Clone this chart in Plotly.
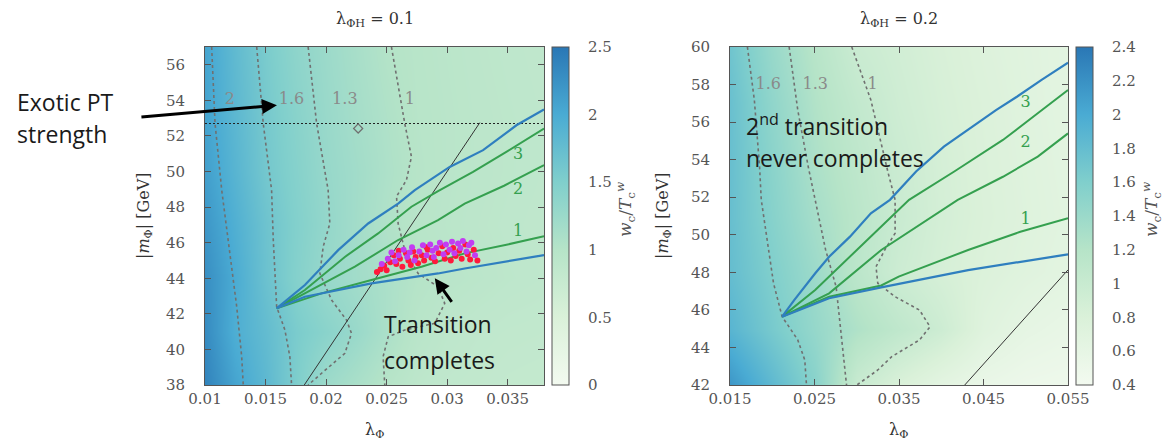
import plotly.graph_objects as go

W, H = 1166, 443
SERIF = "DejaVu Serif"
SANS = "Open Sans"
BLUE = "#2f7fbf"
GREEN = "#35a04f"
DASH_GREY = "#707070"

# ---------------- Left panel: lambda_PhiH = 0.1 ----------------
L_lam_grid = [0.010, 0.0125, 0.015, 0.0175, 0.020, 0.0225, 0.025, 0.0275, 0.030, 0.0325, 0.035, 0.038]
L_m_grid = [38, 41, 44, 47, 50, 53, 57]
L_z = [
    [2.38, 2.07, 1.82, 1.52, 1.23, 1.11, 0.99, 0.90, 0.86, 0.84, 0.82, 0.81],
    [2.31, 1.96, 1.77, 1.55, 1.41, 1.27, 1.10, 0.96, 0.90, 0.87, 0.85, 0.84],
    [2.28, 1.99, 1.69, 1.46, 1.28, 1.19, 1.10, 1.01, 0.96, 0.93, 0.90, 0.88],
    [2.20, 1.94, 1.67, 1.48, 1.32, 1.18, 1.05, 0.97, 0.94, 0.91, 0.89, 0.87],
    [2.12, 1.87, 1.61, 1.45, 1.29, 1.19, 1.08, 0.99, 0.95, 0.92, 0.90, 0.88],
    [2.08, 1.83, 1.59, 1.42, 1.27, 1.16, 1.06, 0.98, 0.95, 0.92, 0.90, 0.88],
    [2.06, 1.79, 1.55, 1.37, 1.24, 1.13, 1.02, 0.97, 0.94, 0.91, 0.89, 0.87],
]

L_blue_up_lam = [0.01592, 0.01825, 0.0210, 0.02348, 0.02595, 0.02733, 0.03021, 0.03297, 0.03572, 0.038]
L_blue_up_m = [42.31, 43.62, 45.58, 47.08, 48.2, 48.96, 50.26, 51.2, 52.6, 53.49]
L_green3_lam = [0.01592, 0.01825, 0.02155, 0.0243, 0.02705, 0.02925, 0.03214, 0.03489, 0.038]
L_green3_m = [42.31, 43.34, 45.2, 46.52, 48.02, 48.9, 49.98, 51.1, 52.42]
L_green2_lam = [0.01592, 0.0188, 0.02238, 0.02595, 0.02925, 0.03145, 0.0347, 0.038]
L_green2_m = [42.31, 43.34, 44.65, 46.15, 47.27, 48.2, 49.2, 50.36]
L_green1_lam = [0.01592, 0.01963, 0.02375, 0.02788, 0.03145, 0.0350, 0.038]
L_green1_m = [42.31, 43.15, 43.9, 44.65, 45.4, 45.9, 46.37]
L_blue_lo_lam = [0.01592, 0.01825, 0.02375, 0.02925, 0.03145, 0.03489, 0.038]
L_blue_lo_m = [42.31, 42.96, 43.71, 44.27, 44.55, 44.93, 45.30]

L_c2_lam = [0.01055, 0.01083, 0.01138, 0.01192, 0.01262, 0.01303, 0.01316]
L_c2_m = [57, 52.7, 48.96, 46.15, 42.4, 39.59, 38]
L_c16_lam = [0.01427, 0.01481, 0.0155, 0.01564, 0.01592, 0.0166, 0.01701, 0.01715]
L_c16_m = [57, 52.7, 48.96, 46.15, 42.4, 41.09, 39.59, 38]
L_c13_lam = [0.01852, 0.01922, 0.02017, 0.02031, 0.01976, 0.01949, 0.02045, 0.02169, 0.0221, 0.02155, 0.01963, 0.01852]
L_c13_m = [57, 52.7, 48.96, 47.08, 45.77, 44.27, 42.78, 41.65, 40.9, 39.78, 38.66, 38]
L_c1_lam = [0.0254, 0.0265, 0.02705, 0.02664, 0.02582, 0.02595, 0.0265, 0.0276, 0.02925, 0.0298, 0.02898, 0.0265, 0.02513, 0.02471, 0.02485]
L_c1_m = [57, 52.7, 50.83, 49.52, 48.6, 47.08, 45.58, 44.27, 43.52, 42.59, 41.47, 41.09, 40.71, 39.59, 38]

L_black_lam = [0.0182, 0.0327]
L_black_m = [38, 52.75]
L_hline_lam = [0.010, 0.038]
L_hline_m = [52.7, 52.7]
L_loop_lam = [0.02265]
L_loop_m = [52.42]

L_clab_text = ["2", "1.6", "1.3", "1"]
L_clab_lam = [0.01206, 0.01715, 0.02155, 0.02691]
L_clab_m = [54.0, 54.0, 54.0, 54.0]
L_glab_text = ["3", "2", "1"]
L_glab_lam = [0.03585, 0.03585, 0.03585]
L_glab_m = [50.92, 48.96, 46.61]

red_lam = [0.0242, 0.0245, 0.0248, 0.0250, 0.0253, 0.0256, 0.0258, 0.0261, 0.0263, 0.0266, 0.0268, 0.0270,
           0.0272, 0.0274, 0.0276, 0.0279, 0.0281, 0.0284, 0.0287, 0.0290, 0.0293, 0.0296, 0.0298, 0.0300,
           0.0303, 0.0305, 0.0307, 0.0310, 0.0312, 0.0315, 0.0317, 0.0319, 0.0322, 0.0325, 0.0260, 0.0283]
red_m = [44.35, 44.5, 44.7, 44.45, 44.9, 45.3, 44.8, 45.1, 44.65, 45.4, 45.0, 44.75,
         45.5, 45.2, 44.85, 45.3, 45.0, 45.6, 45.15, 44.95, 45.4, 45.8, 45.1, 45.45,
         45.0, 45.7, 45.25, 45.55, 45.1, 45.9, 45.35, 45.05, 45.6, 45.0, 45.55, 45.75]
mag_lam = [0.0246, 0.0251, 0.0254, 0.0257, 0.0260, 0.0264, 0.0267, 0.0271, 0.0273, 0.0277, 0.0280, 0.0283,
           0.0286, 0.0288, 0.0291, 0.0294, 0.0297, 0.0299, 0.0302, 0.0304, 0.0306, 0.0309, 0.0311, 0.0313,
           0.0316, 0.0318, 0.0320, 0.0323, 0.0269, 0.0289]
mag_m = [44.8, 45.1, 45.45, 44.95, 45.3, 45.6, 45.2, 45.75, 45.0, 45.5, 45.85, 45.3,
         45.9, 45.55, 45.7, 46.0, 45.35, 45.9, 45.6, 46.05, 45.4, 45.95, 45.7, 46.1,
         45.5, 45.85, 46.0, 45.3, 45.45, 45.2]

L_xticks = [0.01, 0.015, 0.02, 0.025, 0.03, 0.035]
L_xticktext = ["0.01", "0.015", "0.02", "0.025", "0.03", "0.035"]
L_yticks = [38, 40, 42, 44, 46, 48, 50, 52, 54, 56]
L_cticks = [0, 0.5, 1, 1.5, 2, 2.5]
L_cticktext = ["0", "0.5", "1", "1.5", "2", "2.5"]

# ---------------- Right panel: lambda_PhiH = 0.2 ----------------
R_lam_grid = [0.015, 0.020, 0.025, 0.030, 0.035, 0.040, 0.045, 0.050, 0.055]
R_m_grid = [42, 45, 48, 51, 54, 57, 60]
R_z = [
    [2.16, 1.85, 1.54, 1.00, 0.80, 0.65, 0.55, 0.50, 0.48],
    [1.89, 1.66, 1.44, 1.25, 1.10, 0.95, 0.72, 0.62, 0.57],
    [1.80, 1.60, 1.39, 1.14, 0.95, 0.85, 0.77, 0.71, 0.66],
    [1.78, 1.55, 1.32, 1.15, 0.99, 0.87, 0.79, 0.73, 0.68],
    [1.78, 1.52, 1.27, 1.11, 0.97, 0.86, 0.78, 0.72, 0.67],
    [1.77, 1.48, 1.23, 1.06, 0.93, 0.84, 0.77, 0.71, 0.66],
    [1.72, 1.42, 1.18, 0.98, 0.90, 0.82, 0.75, 0.70, 0.66],
]

R_blue_up_lam = [0.02117, 0.02262, 0.02509, 0.02673, 0.0292, 0.03167, 0.03393, 0.03702, 0.04031, 0.04318, 0.04648, 0.04895, 0.05183, 0.055]
R_blue_up_m = [45.64, 46.53, 47.95, 48.83, 49.9, 51.14, 51.86, 53.37, 54.69, 55.58, 56.64, 57.35, 58.24, 59.16]
R_green3_lam = [0.02117, 0.02508, 0.03084, 0.03619, 0.04154, 0.0473, 0.05142, 0.055]
R_green3_m = [45.64, 47.06, 49.55, 51.86, 53.37, 55.05, 56.47, 57.71]
R_green2_lam = [0.02117, 0.02673, 0.0329, 0.04195, 0.0473, 0.05142, 0.055]
R_green2_m = [45.64, 46.88, 49.19, 51.86, 53.09, 54.16, 55.4]
R_green1_lam = [0.02117, 0.02673, 0.0329, 0.03496, 0.04318, 0.04936, 0.055]
R_green1_m = [45.64, 46.7, 47.3, 47.77, 49.19, 50.16, 50.88]
R_blue_lo_lam = [0.02117, 0.02673, 0.0329, 0.04318, 0.055]
R_blue_lo_m = [45.64, 46.62, 47.2, 48.12, 48.96]

R_c16_lam = [0.01706, 0.01788, 0.0185, 0.0187, 0.02015, 0.02117, 0.02302, 0.02385, 0.02405]
R_c16_m = [60, 57.18, 53.62, 51.86, 47.42, 45.64, 44.4, 43.33, 42]
R_c13_lam = [0.022, 0.02302, 0.02426, 0.02509, 0.02632, 0.02756, 0.02796, 0.02837, 0.02879]
R_c13_m = [60, 56.64, 53.62, 51.86, 49.19, 47.23, 45.64, 43.86, 42]
R_c1_lam = [0.02941, 0.03167, 0.03373, 0.03454, 0.03454, 0.03331, 0.03228, 0.03249, 0.03454, 0.03743, 0.03867, 0.03743, 0.03414, 0.03249, 0.03002]
R_c1_m = [60, 57.18, 53.27, 51.86, 50.08, 49.19, 48.3, 47.42, 46.7, 45.99, 45.1, 44.4, 43.51, 42.8, 42]

R_black_lam = [0.04278, 0.055]
R_black_m = [42, 48.13]

R_clab_text = ["1.6", "1.3", "1"]
R_clab_lam = [0.01953, 0.02509, 0.03188]
R_clab_m = [57.97, 57.97, 57.97]
R_glab_text = ["3", "2", "1"]
R_glab_lam = [0.04998, 0.04998, 0.04998]
R_glab_m = [57.0, 54.88, 50.79]

R_xticks = [0.015, 0.025, 0.035, 0.045, 0.055]
R_xticktext = ["0.015", "0.025", "0.035", "0.045", "0.055"]
R_yticks = [42, 44, 46, 48, 50, 52, 54, 56, 58, 60]
R_cticks = [0.4, 0.6, 0.8, 1.0, 1.2, 1.4, 1.6, 1.8, 2.0, 2.2, 2.4]
R_cticktext = ["0.4", "0.6", "0.8", "1", "1.2", "1.4", "1.6", "1.8", "2", "2.2", "2.4"]

COLORSCALE = [[0.0, "#f3faf0"], [0.2, "#daf1d9"], [0.4, "#b6e4c8"],
              [0.6, "#80cfcc"], [0.8, "#4aabd3"], [1.0, "#2a77b5"]]

# ---------------- layout geometry (pixels) ----------------
TOP, BOT = 47, 385
L_X0, L_X1 = 205, 544
R_X0, R_X1 = 730, 1068


def px(x):
    return x / W


def py(y):
    return 1 - y / H


tickfont = dict(family=SERIF, size=15, color="#555")


def cbar(xpix, tickvals, ticktext):
    return dict(x=px(xpix), xanchor="left", xpad=0, ypad=0,
                y=py((TOP + BOT) / 2), yanchor="middle",
                len=BOT - TOP, lenmode="pixels", thickness=17, thicknessmode="pixels",
                outlinecolor="#555", outlinewidth=1,
                tickvals=tickvals, ticktext=ticktext,
                ticks="outside", ticklen=16, tickcolor="rgba(0,0,0,0)",
                tickfont=tickfont)


fig = go.Figure()

fig.add_trace(go.Heatmap(x=L_lam_grid, y=L_m_grid, z=L_z, zsmooth="best",
                         colorscale=COLORSCALE, zmin=0, zmax=2.5,
                         colorbar=cbar(552, L_cticks, L_cticktext),
                         hoverinfo="skip", xaxis="x", yaxis="y"))
fig.add_trace(go.Heatmap(x=R_lam_grid, y=R_m_grid, z=R_z, zsmooth="best",
                         colorscale=COLORSCALE, zmin=0.4, zmax=2.4,
                         colorbar=cbar(1076, R_cticks, R_cticktext),
                         hoverinfo="skip", xaxis="x2", yaxis="y2"))


def line(xs, ys, color, width, dash="solid", ax="x", ay="y"):
    fig.add_trace(go.Scatter(x=xs, y=ys, mode="lines", xaxis=ax, yaxis=ay,
                             line=dict(color=color, width=width, dash=dash),
                             showlegend=False, hoverinfo="skip"))


DASH = "3px,3px"
for xs, ys in [(L_c2_lam, L_c2_m), (L_c16_lam, L_c16_m), (L_c13_lam, L_c13_m), (L_c1_lam, L_c1_m)]:
    line(xs, ys, DASH_GREY, 1.6, DASH)
line(L_hline_lam, L_hline_m, "#222", 1.2, "2px,2px")
line(L_black_lam, L_black_m, "#333", 1)
fig.add_trace(go.Scatter(x=L_loop_lam, y=L_loop_m, mode="markers", xaxis="x", yaxis="y",
                         marker=dict(symbol="diamond-open", size=7, color=DASH_GREY, line=dict(width=1.2)),
                         showlegend=False, hoverinfo="skip"))
line(L_green3_lam, L_green3_m, GREEN, 2)
line(L_green2_lam, L_green2_m, GREEN, 2)
line(L_green1_lam, L_green1_m, GREEN, 2)
line(L_blue_up_lam, L_blue_up_m, BLUE, 2.2)
line(L_blue_lo_lam, L_blue_lo_m, BLUE, 2.2)

fig.add_trace(go.Scatter(x=red_lam, y=red_m, mode="markers", xaxis="x", yaxis="y",
                         marker=dict(color="#ff1a3c", size=6), showlegend=False, hoverinfo="skip"))
fig.add_trace(go.Scatter(x=mag_lam, y=mag_m, mode="markers", xaxis="x", yaxis="y",
                         marker=dict(color="#c23cf2", size=6), showlegend=False, hoverinfo="skip"))

for xs, ys in [(R_c16_lam, R_c16_m), (R_c13_lam, R_c13_m), (R_c1_lam, R_c1_m)]:
    line(xs, ys, DASH_GREY, 1.6, DASH, "x2", "y2")
line(R_black_lam, R_black_m, "#333", 1, "solid", "x2", "y2")
line(R_green3_lam, R_green3_m, GREEN, 2, "solid", "x2", "y2")
line(R_green2_lam, R_green2_m, GREEN, 2, "solid", "x2", "y2")
line(R_green1_lam, R_green1_m, GREEN, 2, "solid", "x2", "y2")
line(R_blue_up_lam, R_blue_up_m, BLUE, 2.2, "solid", "x2", "y2")
line(R_blue_lo_lam, R_blue_lo_m, BLUE, 2.2, "solid", "x2", "y2")


def labels(xs, ys, texts, color, ax, ay):
    fig.add_trace(go.Scatter(x=xs, y=ys, text=texts, mode="text", xaxis=ax, yaxis=ay,
                             textfont=dict(family=SERIF, size=16, color=color),
                             showlegend=False, hoverinfo="skip"))


labels(L_clab_lam, L_clab_m, L_clab_text, "#8a8a8a", "x", "y")
labels(L_glab_lam, L_glab_m, L_glab_text, GREEN, "x", "y")
labels(R_clab_lam, R_clab_m, R_clab_text, "#8a8a8a", "x2", "y2")
labels(R_glab_lam, R_glab_m, R_glab_text, GREEN, "x2", "y2")

axis_common = dict(showgrid=False, zeroline=False, showline=True, linecolor="#555", linewidth=1,
                   mirror="allticks", ticks="inside", ticklen=6, tickcolor="#555",
                   tickfont=tickfont, automargin=False)

fig.update_layout(
    width=W, height=H, margin=dict(l=0, r=0, t=0, b=0, pad=0, autoexpand=False),
    font=dict(family=SERIF, size=15, color="#444"),
    paper_bgcolor="white", plot_bgcolor="white", showlegend=False,
    xaxis=dict(domain=[px(L_X0), px(L_X1)], range=[0.01, 0.038], anchor="y",
               tickvals=L_xticks, ticktext=L_xticktext, ticklabelstandoff=0, **axis_common),
    yaxis=dict(domain=[py(BOT), py(TOP)], range=[38, 57], anchor="x",
               tickvals=L_yticks, ticklabelstandoff=16, **axis_common),
    xaxis2=dict(domain=[px(R_X0), px(R_X1)], range=[0.015, 0.055], anchor="y2",
                tickvals=R_xticks, ticktext=R_xticktext, ticklabelstandoff=0, **axis_common),
    yaxis2=dict(domain=[py(BOT), py(TOP)], range=[42, 60], anchor="x2",
                tickvals=R_yticks, ticklabelstandoff=16, **axis_common),
)

ann = []
txt_font = dict(family=SERIF, size=16, color="#333")
for cx, t in [((L_X0 + L_X1) / 2, "λ<sub>ΦH</sub> = 0.1"), ((R_X0 + R_X1) / 2, "λ<sub>ΦH</sub> = 0.2")]:
    ann.append(dict(x=px(cx), y=py(20), xref="paper", yref="paper", text=t, showarrow=False,
                    xanchor="center", yanchor="middle", font=txt_font))
    ann.append(dict(x=px(cx), y=py(430), xref="paper", yref="paper", text="λ<sub>Φ</sub>",
                    showarrow=False, xanchor="center", yanchor="middle", font=txt_font))
for xx in [144, 663]:
    ann.append(dict(x=px(xx), y=py(216), xref="paper", yref="paper",
                    text="|<i>m</i><sub>Φ</sub>| [GeV]", textangle=-90, showarrow=False,
                    xanchor="center", yanchor="middle", font=txt_font))
for xx in [625, 1151]:
    ann.append(dict(x=px(xx), y=py(210), xref="paper", yref="paper",
                    text="<i>w</i><sub>c</sub>/<i>T</i><sub>c</sub><sup><i>w</i></sup>", textangle=-90,
                    showarrow=False, xanchor="center", yanchor="middle",
                    font=dict(family=SERIF, size=17, color="#555")))

big = dict(family=SANS, size=23, color="#1a1a1a")
ann.append(dict(x=px(15), y=py(102), xref="paper", yref="paper", text="Exotic PT", showarrow=False,
                xanchor="left", yanchor="middle", font=big))
ann.append(dict(x=px(15), y=py(134), xref="paper", yref="paper", text="strength", showarrow=False,
                xanchor="left", yanchor="middle", font=big))
ann.append(dict(x=0.01594, y=53.73, xref="x", yref="y", ax=-137, ay=12, text="", showarrow=True,
                arrowhead=2, arrowsize=1, arrowwidth=3, arrowcolor="black"))
ann.append(dict(x=0.02458, y=41.43, xref="x", yref="y", text="Transition", showarrow=False,
                xanchor="left", yanchor="middle", font=big))
ann.append(dict(x=0.02458, y=39.40, xref="x", yref="y", text="completes", showarrow=False,
                xanchor="left", yanchor="middle", font=big))
ann.append(dict(x=0.02898, y=44.0, xref="x", yref="y", ax=18, ay=25, text="", showarrow=True,
                arrowhead=2, arrowsize=1, arrowwidth=3, arrowcolor="black"))
ann.append(dict(x=0.01665, y=55.85, xref="x2", yref="y2", text="2<sup>nd</sup> transition",
                showarrow=False, xanchor="left", yanchor="middle", font=big))
ann.append(dict(x=0.01665, y=54.08, xref="x2", yref="y2", text="never completes",
                showarrow=False, xanchor="left", yanchor="middle", font=big))
fig.update_layout(annotations=ann)

fig.write_html("out.html")
